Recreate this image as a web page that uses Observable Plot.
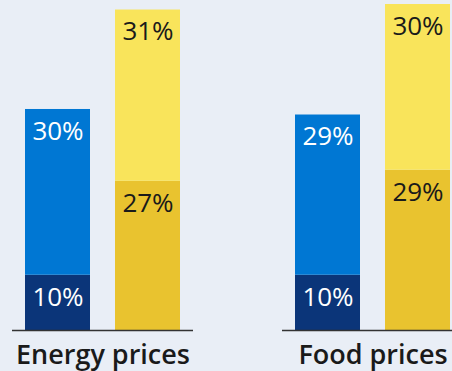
<!DOCTYPE html>
<html><head><meta charset="utf-8">
<script src="https://cdn.jsdelivr.net/npm/d3@7"></script>
<script src="https://cdn.jsdelivr.net/npm/@observablehq/plot@0.6"></script>
<style>html,body{margin:0;padding:0;background:#e9eef6;overflow:hidden}#chart svg{display:block}</style>
</head><body><div id="chart"></div>
<script>
const groups = ["Energy prices", "Food prices"];
const seriesNames = ["Blue series", "Yellow series"];
const partNames = ["Blue lower", "Blue upper", "Yellow lower", "Yellow upper"];
const blueLower = [10, 10];
const blueUpper = [30, 29];
const yellowLower = [27, 29];
const yellowUpper = [31, 30];

const rows = [];
groups.forEach((g, i) => {
  rows.push({group: g, series: seriesNames[0], part: partNames[0], value: blueLower[i]});
  rows.push({group: g, series: seriesNames[0], part: partNames[1], value: blueUpper[i]});
  rows.push({group: g, series: seriesNames[1], part: partNames[2], value: yellowLower[i]});
  rows.push({group: g, series: seriesNames[1], part: partNames[3], value: yellowUpper[i]});
});

const chart = Plot.plot({
  width: 452, height: 371,
  marginLeft: 12, marginRight: -11, marginTop: 4, marginBottom: 41,
  style: {background: "#e9eef6", fontFamily: "'Open Sans', sans-serif", overflow: "hidden"},
  fx: {domain: groups, paddingInner: 0.331, paddingOuter: 0, label: null},
  x: {domain: seriesNames, paddingInner: 0.277, paddingOuter: 0.136, axis: null},
  y: {domain: [0, 59], axis: null},
  color: {domain: partNames, range: ["#0b3579", "#0077d3", "#e9c32f", "#f9e45b"]},
  marks: [
    Plot.barY(rows, {fx: "group", x: "series", y: "value", fill: "part"}),
    Plot.ruleY([0], {stroke: "#333", strokeWidth: 1.5}),
    Plot.text(rows, Plot.stackY2({filter: d => d.series === seriesNames[0], fx: "group", x: "series", y: "value", text: d => d.value + "%", fill: "white", dy: 22, fontSize: 26})),
    Plot.text(rows, Plot.stackY2({filter: d => d.series === seriesNames[1], fx: "group", x: "series", y: "value", text: d => d.value + "%", fill: "#1a1a1a", dy: 22, fontSize: 26})),
    Plot.axisFx({anchor: "bottom", tickSize: 0, tickPadding: 14, fontSize: 27, fontWeight: 600, fill: "#1a1a1a", label: null})
  ]
});
document.getElementById("chart").appendChild(chart);
</script>
</body></html>
